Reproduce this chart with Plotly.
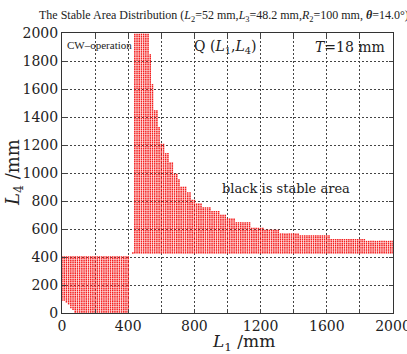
import numpy as np
import plotly.graph_objects as go

# ---- data ----
# grid spacing of the sampled (L1, L4) points
step_L1 = 2000 / 150
step_L4 = 2000 / 150

# lower-left stable block
block_L1_max = 405
block_L4_max = 405
# staircase cut in the lower-left corner: for L1 >= start, L4 begins at value
corner_L1_start = [0, 20, 35, 50, 65, 80]
corner_L4_low = [82, 70, 55, 40, 22, 0]

# main stable region: bottom edge and stepped upper edge
main_L4_bottom = 430
upper_L1_start = [440, 525, 540, 560, 582, 600, 625, 650, 675, 700, 720, 750, 780,
                  810, 850, 900, 950, 1000, 1050, 1135, 1215, 1315, 1435, 1620, 1835]
upper_L4_top = [2000, 1855, 1630, 1455, 1330, 1214, 1143, 1071, 1000, 960, 900, 860, 807,
                780, 757, 728, 700, 679, 650, 614, 593, 574, 557, 536, 514]

extra_L1 = [428]
extra_L4 = [428]

x_ticks = [0, 400, 800, 1200, 1600, 2000]
y_ticks = [0, 200, 400, 600, 800, 1000, 1200, 1400, 1600, 1800, 2000]


def step_lookup(x, starts, vals):
    idx = np.searchsorted(starts, x, side="right") - 1
    return vals[idx]


px, py = [], []
for L1 in np.arange(0, 2000 + 1e-6, step_L1):
    if L1 <= block_L1_max:
        lo = step_lookup(L1, corner_L1_start, corner_L4_low)
        for L4 in np.arange(0, block_L4_max + 1e-6, step_L4):
            if L4 >= lo:
                px.append(L1); py.append(L4)
    if L1 >= upper_L1_start[0]:
        top = step_lookup(L1, upper_L1_start, upper_L4_top)
        for L4 in np.arange(main_L4_bottom, top + 1e-6, step_L4):
            px.append(L1); py.append(L4)
px += extra_L1
py += extra_L4

FONT = "DejaVu Serif"
fig = go.Figure()
fig.add_trace(go.Scatter(
    x=px, y=py, mode="markers",
    marker=dict(symbol="square", size=1.5, color="#f41c1c", line=dict(width=0)),
    hoverinfo="skip", showlegend=False,
))

grid = dict(showgrid=True, gridcolor="#444444", griddash="2px,2px", gridwidth=1)
fig.update_xaxes(range=[0, 2000], tickvals=x_ticks, ticks="inside", ticklen=4,
                 showline=True, linecolor="#333333", linewidth=1, mirror="ticks",
                 zeroline=False, ticklabeloverflow="allow", automargin=False,
                 tickfont=dict(family=FONT, size=14, color="#222"),
                 minor=dict(dtick=200, ticks="inside", ticklen=4, showgrid=True,
                            gridcolor="#444444", griddash="2px,2px"),
                 **grid)
fig.update_yaxes(range=[0, 2000], tickvals=y_ticks, ticks="inside", ticklen=4,
                 showline=True, linecolor="#333333", linewidth=1, mirror="ticks",
                 zeroline=False, ticklabeloverflow="allow", automargin=False,
                 tickfont=dict(family=FONT, size=14, color="#222"),
                 **grid)

ann = []
ann.append(dict(text="The Stable Area Distribution (<i>L</i><sub>2</sub>=52 mm,<i>L</i><sub>3</sub>=48.2 mm,"
                     "<i>R</i><sub>2</sub>=100 mm, <b><i>θ</i></b>=14.0°)",
                xref="paper", yref="paper", x=(37 - 62) / 331, y=(313 - 16) / 280,
                xanchor="left", yanchor="middle", showarrow=False,
                font=dict(family="Liberation Serif", size=12, color="#222")))
ann.append(dict(text="CW–operation", xref="paper", yref="paper",
                x=(65 - 62) / 331, y=(313 - 45) / 280, xanchor="left", yanchor="middle",
                showarrow=False, font=dict(family="Liberation Serif", size=11, color="#222")))
ann.append(dict(text="Q (<i>L</i><sub>1</sub>,<i>L</i><sub>4</sub>)", xref="paper", yref="paper",
                x=(225 - 62) / 331, y=(313 - 47) / 280, xanchor="center", yanchor="middle",
                showarrow=False, font=dict(family=FONT, size=14, color="#222")))
ann.append(dict(text="<i>T</i>=18 mm", xref="paper", yref="paper",
                x=(350 - 62) / 331, y=(313 - 47) / 280, xanchor="center", yanchor="middle",
                showarrow=False, font=dict(family=FONT, size=14, color="#222")))
ann.append(dict(text="black is stable area", xref="paper", yref="paper",
                x=(286 - 62) / 331, y=(313 - 188) / 280, xanchor="center", yanchor="middle",
                showarrow=False, font=dict(family=FONT, size=13, color="#222")))
ann.append(dict(text="<i>L</i><sub>1</sub> /mm", xref="paper", yref="paper",
                x=(243 - 62) / 331, y=(313 - 342) / 280, xanchor="center", yanchor="middle",
                showarrow=False, font=dict(family=FONT, size=17, color="#222")))
ann.append(dict(text="<i>L</i><sub>4</sub> /mm", xref="paper", yref="paper",
                x=(14 - 62) / 331, y=(313 - 172) / 280, xanchor="center", yanchor="middle",
                textangle=-90, showarrow=False, font=dict(family=FONT, size=18, color="#222")))

fig.update_layout(width=407, height=354, margin=dict(l=62, r=14, t=33, b=41),
                  paper_bgcolor="white", plot_bgcolor="white", annotations=ann,
                  showlegend=False)
fig.write_html("out.html")
